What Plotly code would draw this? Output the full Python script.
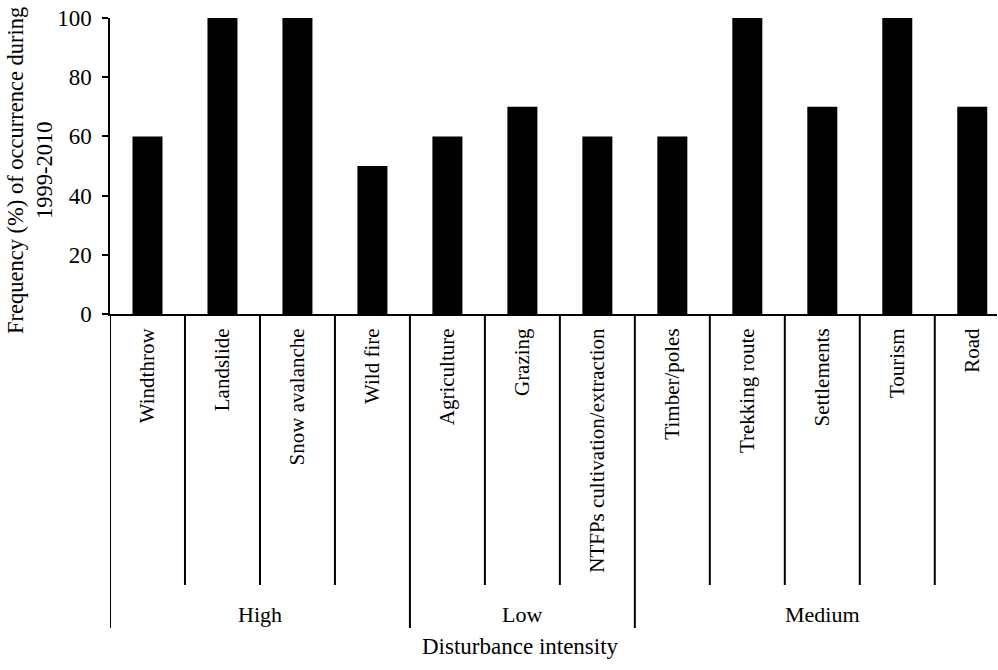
import plotly.graph_objects as go

categories = ["Windthrow", "Landslide", "Snow avalanche", "Wild fire",
              "Agriculture", "Grazing", "NTFPs cultivation/extraction",
              "Timber/poles", "Trekking route", "Settlements", "Tourism", "Road"]
frequency = [60, 100, 100, 50, 60, 70, 60, 60, 100, 70, 100, 70]
groups = ["High", "Low", "Medium"]
group_sizes = [4, 3, 5]
y_ticks = [0, 20, 40, 60, 80, 100]

FONT = "Liberation Serif, Times New Roman, serif"

fig = go.Figure()
fig.add_trace(go.Bar(x=list(range(len(categories))), y=frequency,
                     marker=dict(color="black", line=dict(width=0)),
                     width=0.4))

W, H = 998, 670
ml, mr, mt, mb = 110, 1, 18, 356
ph = H - mt - mb
pw = W - ml - mr

def py(pix):
    # pixel row -> paper y
    return (H - mb - pix) / ph

shapes = []
bounds = []
start = 0
for g in group_sizes:
    bounds.append(start)
    start += g
bounds.append(start)
for i in range(len(categories) + 1):
    b = i - 0.5
    long = i in bounds
    shapes.append(dict(type="line", xref="x", yref="paper", x0=b, x1=b,
                       y0=0, y1=py(628 if long else 585),
                       line=dict(color="black", width=2)))

annotations = []
start = 0
for g, n in zip(groups, group_sizes):
    center = start + (n - 1) / 2
    annotations.append(dict(x=center, y=py(614), xref="x", yref="paper",
                            text=g, showarrow=False, yanchor="middle",
                            font=dict(family=FONT, size=22, color="black")))
    start += n

annotations.append(dict(x=(520 - ml) / pw, y=py(646), xref="paper", yref="paper",
                        text="Disturbance intensity", showarrow=False,
                        yanchor="middle",
                        font=dict(family=FONT, size=23, color="black")))
annotations.append(dict(x=(30 - ml) / pw, y=py(171), xref="paper", yref="paper",
                        text="Frequency (%) of occurrence during<br>1999-2010",
                        textangle=-90, showarrow=False, xanchor="center",
                        yanchor="middle",
                        font=dict(family=FONT, size=22.5, color="black")))

fig.update_layout(
    width=W, height=H,
    margin=dict(l=ml, r=mr, t=mt, b=mb),
    paper_bgcolor="white", plot_bgcolor="white",
    showlegend=False,
    shapes=shapes,
    annotations=annotations,
    xaxis=dict(range=[-0.5, 11.33], tickmode="array",
               tickvals=list(range(len(categories))), ticktext=categories,
               tickangle=-90, ticks="", showgrid=False, zeroline=False,
               showline=True, linecolor="black", linewidth=2,
               ticklabelstandoff=4,
               tickfont=dict(family=FONT, size=21, color="black")),
    yaxis=dict(range=[0, 100], tickmode="array", tickvals=y_ticks,
               ticks="outside", ticklen=6, tickwidth=1.5, tickcolor="black",
               showgrid=False, zeroline=False, showline=True,
               linecolor="black", linewidth=1.5, ticklabelstandoff=6,
               tickfont=dict(family=FONT, size=23, color="black")),
)

fig.write_html("out.html",
               config={"displayModeBar": False},
               post_script="document.body.style.margin='0px';document.body.style.overflow='hidden';")
